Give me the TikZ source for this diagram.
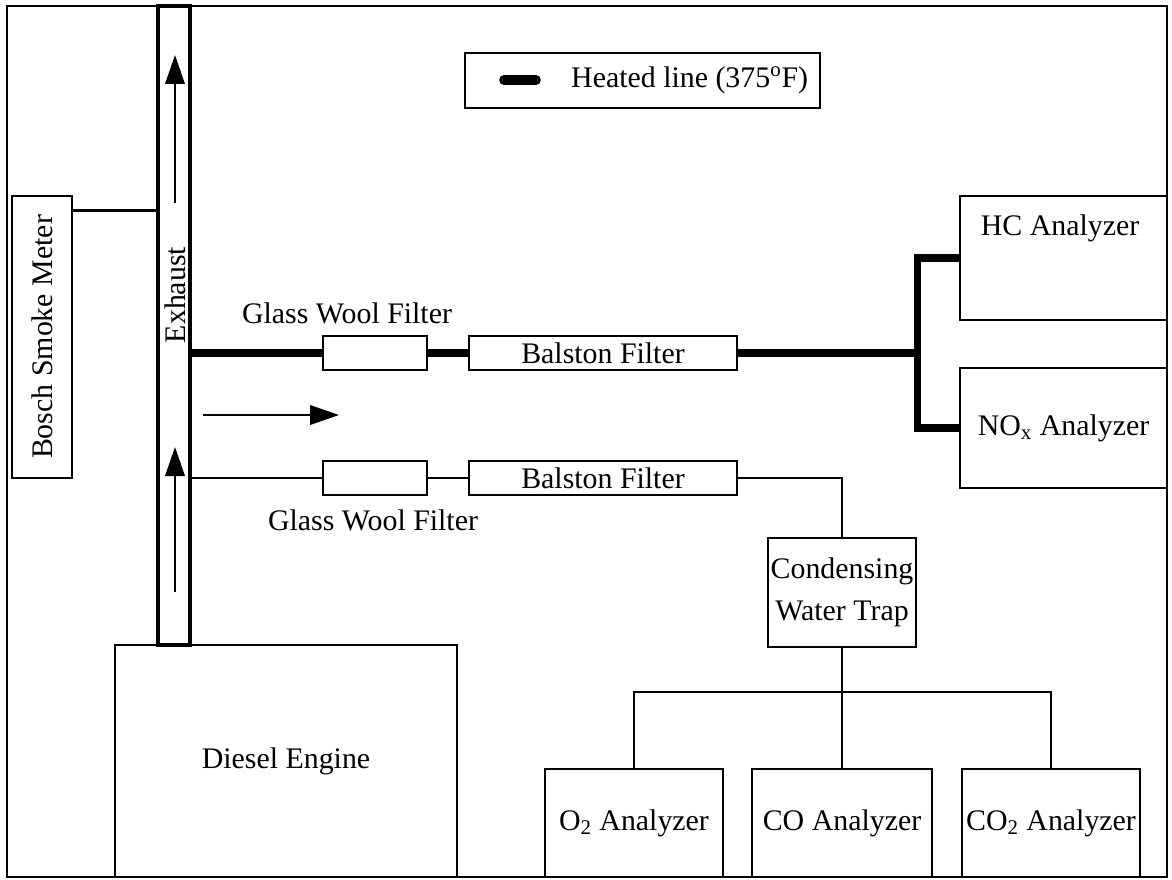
\documentclass[tikz,border=0pt]{standalone}
\usepackage{fontspec}
\setmainfont{Liberation Serif}
\usetikzlibrary{arrows.meta}

\begin{document}
\begin{tikzpicture}[
  x=0.02cm, y=-0.02cm,
  font=\fontsize{17}{20}\selectfont,
  box/.style={draw, line width=1.6pt, align=center, inner sep=1pt},
  pipeline/.style={line width=1.4pt},
  heated/.style={line width=4pt},
  flow/.style={-{Triangle[length=5.8mm,width=3.9mm]}, line width=1.2pt}
]
\useasboundingbox (0,0) rectangle (1172,879);
\draw[line width=1.2pt] (7,6) rectangle (1167,877);

% exhaust pipe and engine
\node[draw, line width=2.3pt, minimum width=0.64cm, minimum height=12.78cm, inner sep=0pt] (pipe) at (174,325.5) {};
\node[rotate=90] (exhaustlbl) at (175,295) {Exhaust};
\node[box, minimum width=6.84cm, minimum height=4.64cm] (engine) at (286,761) {Diesel Engine};
\node[box, minimum width=1.2cm, minimum height=5.64cm] (bosch) at (42,337) {\rotatebox{90}{Bosch Smoke Meter}};

% legend
\node[box, line width=1.2pt, minimum width=7.1cm, minimum height=1.1cm] (legend) at (642.5,80.5) {};
\draw[line width=5.5pt, line cap=round] (504,80) -- (536,80);
\node[anchor=west] (legendtext) at (565,80) {Heated line (375\textsuperscript{o}F)};

% sample lines
\node[box, minimum width=2.08cm, minimum height=0.68cm] (glass1) at (375,353) {};
\node[box, minimum width=5.36cm, minimum height=0.68cm] (balston1) at (603,353) {Balston Filter};
\node[box, minimum width=2.08cm, minimum height=0.68cm] (glass2) at (375,478) {};
\node[box, minimum width=5.36cm, minimum height=0.68cm] (balston2) at (603,478) {Balston Filter};
\node (glass1lbl) at (347,313) {Glass Wool Filter};
\node (glass2lbl) at (373,520) {Glass Wool Filter};

% analyzers
\node[box, minimum width=4.14cm, minimum height=2.48cm] (hc) at (1063.5,258) {};
\node (hclbl) at (1060,228) {HC Analyzer};
\node[box, minimum width=4.14cm, minimum height=2.4cm] (nox) at (1063.5,428) {NO\textsubscript{x} Analyzer};
\node[box, minimum width=2.96cm, minimum height=2.18cm] (trap) at (842,592.5) {Condensing\\[4pt]Water Trap};
\node[box, minimum width=3.56cm, minimum height=2.16cm] (o2) at (634,823) {O\textsubscript{2} Analyzer};
\node[box, minimum width=3.6cm, minimum height=2.16cm] (co) at (842,823) {CO Analyzer};
\node[box, minimum width=3.56cm, minimum height=2.16cm] (co2) at (1051,823) {CO\textsubscript{2} Analyzer};

\coordinate (smoketap) at ([yshift=-0.32cm]bosch.north east);
\coordinate (split) at (917,353);
\coordinate (fork) at (trap.south |- 0,692);

\draw[pipeline] (smoketap) -- (smoketap -| pipe.west);
\draw[heated] (glass1.west -| pipe.east) -- (glass1.west)
  (glass1.east) -- (balston1.west)
  (balston1.east) -- (split);
\draw[heated] (hc.west) -| (split) |- (nox.west);
\draw[pipeline] (glass2.west -| pipe.east) -- (glass2.west)
  (glass2.east) -- (balston2.west);
\draw[pipeline] (balston2.east) -| (trap.north);
\draw[pipeline] (trap.south) -- (co.north);
\draw[pipeline] (o2.north) |- (fork) -| (co2.north);

% flow direction
\draw[flow] (175,203) -- (175,55);
\draw[flow] (175,592) -- (175,447);
\draw[flow] (203,415) -- (339,415);

\end{tikzpicture}
\end{document}
